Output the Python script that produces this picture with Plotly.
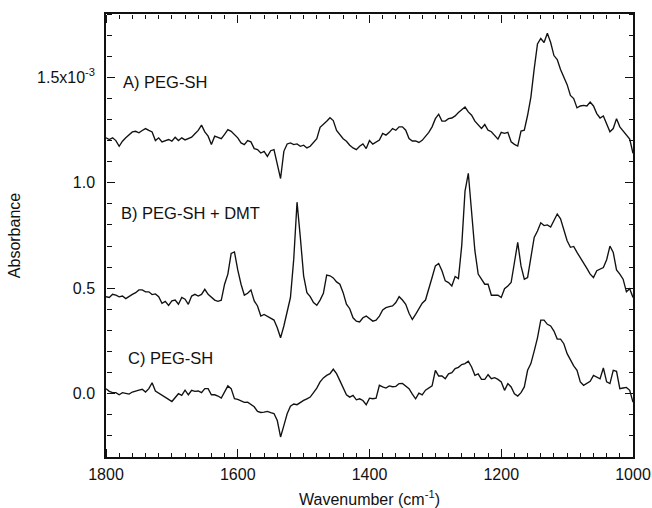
import plotly.graph_objects as go

# Wavenumber sampling grid (cm^-1), 5 cm^-1 steps from 1800 down to 1000
wavenumber = list(range(1800, 995, -5))

# Curve A) PEG-SH (absorbance, x10^-3)
spec_a = [
    1.213, 1.205, 1.213, 1.200, 1.173, 1.197, 1.213, 1.229, 1.241, 1.244,
    1.237, 1.248, 1.257, 1.248, 1.241, 1.200, 1.213, 1.194, 1.200, 1.205,
    1.197, 1.216, 1.200, 1.213, 1.203, 1.209, 1.216, 1.232, 1.248, 1.273,
    1.241, 1.221, 1.181, 1.221, 1.216, 1.209, 1.229, 1.252, 1.244, 1.226,
    1.213, 1.189, 1.181, 1.200, 1.194, 1.162, 1.157, 1.141, 1.149, 1.125,
    1.152, 1.157, 1.094, 1.020, 1.149, 1.184, 1.189, 1.181, 1.184, 1.173,
    1.178, 1.165, 1.173, 1.189, 1.209, 1.263, 1.276, 1.292, 1.308, 1.295,
    1.248, 1.229, 1.209, 1.197, 1.178, 1.165, 1.157, 1.173, 1.184, 1.162, 1.200,
    1.183, 1.191, 1.202, 1.234, 1.226, 1.239, 1.257, 1.249, 1.265, 1.265,
    1.249, 1.210, 1.198, 1.198, 1.191, 1.201, 1.218, 1.239, 1.265, 1.304,
    1.325, 1.292, 1.292, 1.304, 1.307, 1.317, 1.333, 1.344, 1.359, 1.336,
    1.320, 1.292, 1.276, 1.257, 1.276, 1.249, 1.242, 1.226, 1.207, 1.239,
    1.234, 1.239, 1.194, 1.182, 1.174, 1.245, 1.249, 1.320, 1.406, 1.540,
    1.658, 1.684, 1.665, 1.709, 1.665, 1.603, 1.584, 1.537, 1.505, 1.465,
    1.414, 1.399, 1.355, 1.364, 1.367, 1.364, 1.383, 1.364, 1.328, 1.307,
    1.317, 1.276, 1.242, 1.257, 1.304, 1.265, 1.245, 1.229, 1.207, 1.140,
]

# Curve B) PEG-SH + DMT
spec_b = [
    0.460, 0.456, 0.471, 0.467, 0.459, 0.463, 0.451, 0.463, 0.471, 0.479,
    0.492, 0.492, 0.483, 0.483, 0.470, 0.473, 0.460, 0.429, 0.438, 0.419,
    0.440, 0.444, 0.424, 0.456, 0.448, 0.424, 0.463, 0.471, 0.463, 0.471,
    0.495, 0.471, 0.456, 0.444, 0.438, 0.443, 0.519, 0.567, 0.665, 0.672,
    0.587, 0.519, 0.467, 0.476, 0.492, 0.440, 0.416, 0.368, 0.376, 0.368,
    0.360, 0.349, 0.313, 0.265, 0.321, 0.384, 0.456, 0.638, 0.908, 0.741,
    0.559, 0.479, 0.460, 0.432, 0.419, 0.444, 0.476, 0.562, 0.559, 0.549,
    0.530, 0.519, 0.479, 0.424, 0.403, 0.360, 0.344, 0.340, 0.360, 0.368, 0.356,
    0.344, 0.349, 0.368, 0.397, 0.408, 0.413, 0.416, 0.432, 0.460, 0.444,
    0.424, 0.381, 0.352, 0.376, 0.403, 0.429, 0.444, 0.492, 0.551, 0.606,
    0.617, 0.583, 0.535, 0.527, 0.511, 0.556, 0.546, 0.702, 0.960, 1.045,
    0.876, 0.678, 0.567, 0.543, 0.519, 0.519, 0.467, 0.467, 0.467, 0.456,
    0.498, 0.511, 0.527, 0.622, 0.717, 0.606, 0.543, 0.551, 0.641, 0.741,
    0.771, 0.810, 0.797, 0.800, 0.790, 0.821, 0.852, 0.829, 0.781, 0.725,
    0.694, 0.698, 0.670, 0.646, 0.622, 0.594, 0.567, 0.551, 0.583, 0.590,
    0.598, 0.635, 0.700, 0.670, 0.587, 0.567, 0.543, 0.483, 0.498, 0.456,
]

# Curve C) PEG-SH
spec_c = [
    0.024, 0.011, 0.005, 0.005, -0.005, 0.005, 0.002, -0.002, 0.008, 0.014,
    0.017, 0.021, 0.008, 0.024, 0.052, 0.013, 0.002, -0.008, -0.017, -0.027,
    -0.037, -0.019, 0.000, -0.008, 0.017, -0.005, 0.016, 0.011, 0.013, 0.005,
    0.024, 0.024, -0.005, -0.005, -0.011, -0.021, 0.011, 0.037, 0.024, -0.024,
    -0.027, -0.035, -0.041, -0.040, -0.052, -0.062, -0.084, -0.089, -0.087, -0.084,
    -0.090, -0.094, -0.127, -0.205, -0.151, -0.095, -0.059, -0.049, -0.052, -0.041,
    -0.032, -0.024, -0.016, 0.005, 0.027, 0.056, 0.075, 0.087, 0.095, 0.116,
    0.095, 0.062, 0.027, -0.005, -0.016, -0.008, -0.029, -0.024, -0.032, -0.052, -0.021,
    -0.024, -0.021, 0.040, 0.032, 0.027, 0.037, 0.033, 0.035, 0.048, 0.049,
    0.037, 0.024, -0.002, -0.024, 0.003, -0.005, 0.017, 0.027, 0.037, 0.111,
    0.084, 0.084, 0.071, 0.094, 0.100, 0.119, 0.125, 0.138, 0.143, 0.154,
    0.127, 0.087, 0.094, 0.068, 0.068, 0.090, 0.071, 0.076, 0.068, 0.056,
    0.016, 0.048, 0.032, 0.000, -0.011, 0.005, 0.032, 0.111, 0.143, 0.202,
    0.265, 0.349, 0.349, 0.329, 0.321, 0.297, 0.259, 0.259, 0.237, 0.190,
    0.157, 0.132, 0.111, 0.056, 0.040, 0.051, 0.059, 0.087, 0.079, 0.071,
    0.122, 0.056, 0.048, 0.111, 0.106, 0.024, 0.027, 0.030, 0.016, -0.040,
]

series_labels = ["A) PEG-SH", "B) PEG-SH + DMT", "C) PEG-SH"]
label_x = [1777, 1780, 1769]
label_y = [1.478, 0.859, 0.167]

y_tickvals = [0.0, 0.5, 1.0, 1.5]
y_ticktext = ["0.0", "0.5", "1.0", "1.5x10<sup>-3</sup>"]
x_tickvals = [1800, 1600, 1400, 1200, 1000]

X_RANGE = [1800, 1000]
Y_RANGE = [-0.30, 1.80]

FONT = "Liberation Sans, Arial, Helvetica, sans-serif"
INK = "#111111"

fig = go.Figure()
for ys in (spec_a, spec_b, spec_c):
    fig.add_trace(go.Scatter(x=wavenumber, y=ys, mode="lines",
                             line=dict(color=INK, width=1.35),
                             showlegend=False, hoverinfo="skip"))

# invisible traces so the tick-only overlay axes are drawn
for xa, ya in (("x2", "y2"), ("x3", "y3")):
    fig.add_trace(go.Scatter(x=[X_RANGE[0]], y=[Y_RANGE[0]], xaxis=xa, yaxis=ya,
                             mode="markers", marker=dict(size=1, opacity=0),
                             showlegend=False, hoverinfo="skip"))

for txt, lx, ly in zip(series_labels, label_x, label_y):
    fig.add_annotation(x=lx, y=ly, text=txt, showarrow=False,
                       xanchor="left", yanchor="middle",
                       font=dict(family=FONT, size=16.5, color=INK))

# tick-only axes: "outside" ticks on an axis flipped to the opposite side point into the plot
tick_x = dict(range=X_RANGE, overlaying="x", anchor="free", tickmode="linear",
              tick0=1000, dtick=200, ticks="outside", ticklen=8, tickwidth=1.3,
              tickcolor=INK, showticklabels=False, showline=False, showgrid=False,
              zeroline=False, automargin=False,
              minor=dict(dtick=20, ticks="outside", ticklen=4, tickwidth=1,
                         tickcolor=INK, showgrid=False))
tick_y = dict(range=Y_RANGE, overlaying="y", anchor="free", tickmode="linear",
              tick0=0, dtick=0.5, ticks="outside", ticklen=8, tickwidth=1.3,
              tickcolor=INK, showticklabels=False, showline=False, showgrid=False,
              zeroline=False, automargin=False,
              minor=dict(dtick=0.1, ticks="outside", ticklen=4.5, tickwidth=1,
                         tickcolor=INK, showgrid=False))

fig.update_layout(
    template="none",
    width=652, height=508,
    margin=dict(l=106, r=19, t=14, b=51),
    paper_bgcolor="white", plot_bgcolor="rgba(0,0,0,0)",
    font=dict(family=FONT, size=16, color=INK),
    xaxis=dict(
        range=X_RANGE, tickmode="array", tickvals=x_tickvals,
        ticktext=[str(v) for v in x_tickvals], ticks="",
        showline=True, linecolor=INK, linewidth=1.5, mirror=True,
        showgrid=False, zeroline=False, automargin=False,
        tickfont=dict(family=FONT, size=16, color=INK),
        ticklabelstandoff=2,
        title=dict(text="Wavenumber (cm<sup>-1</sup>)",
                   font=dict(family=FONT, size=16, color=INK), standoff=13),
    ),
    yaxis=dict(
        range=Y_RANGE, tickmode="array", tickvals=y_tickvals, ticktext=y_ticktext,
        ticks="",
        showline=True, linecolor=INK, linewidth=1.5, mirror=True,
        showgrid=False, zeroline=False, automargin=False,
        tickfont=dict(family=FONT, size=16, color=INK),
        ticklabelstandoff=6,
        title=dict(text="Absorbance", font=dict(family=FONT, size=16, color=INK), standoff=12),
    ),
    xaxis2=dict(side="top", position=0, **tick_x),
    xaxis3=dict(side="bottom", position=1, **tick_x),
    yaxis2=dict(side="right", position=0, **tick_y),
    yaxis3=dict(side="left", position=1, **tick_y),
)

fig.write_html(
    "out.html",
    config={"displayModeBar": False},
    post_script="document.body.style.margin='0';document.body.style.overflow='hidden';",
)
